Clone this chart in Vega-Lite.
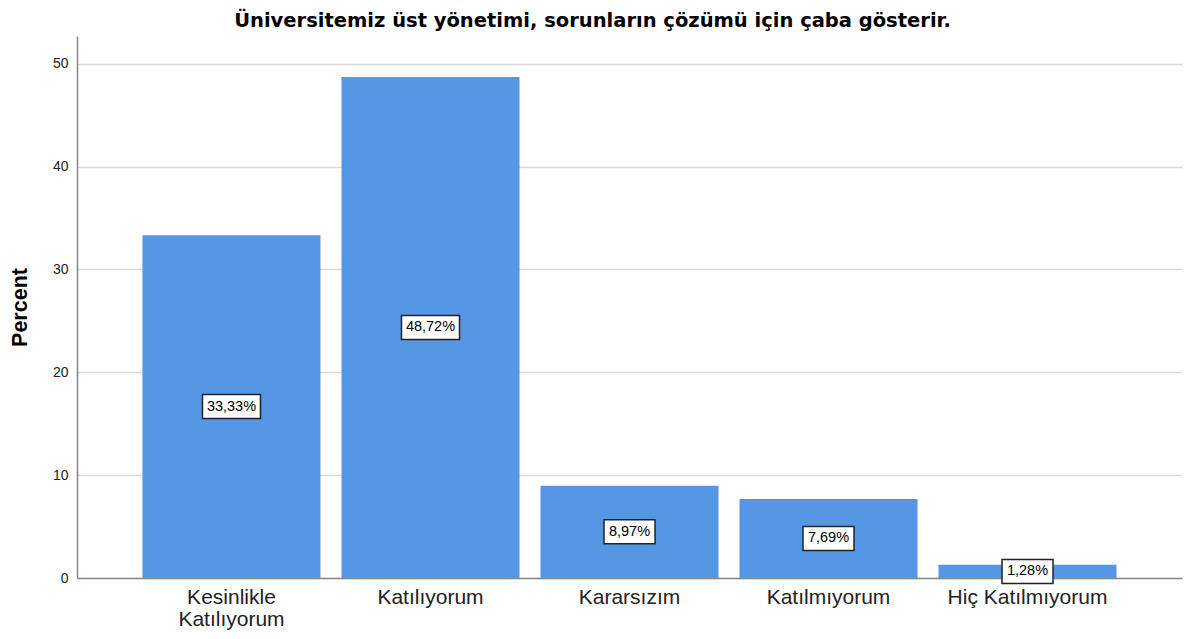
{
  "$schema": "https://vega.github.io/schema/vega-lite/v6.json",
  "autosize": "none",
  "width": 1105,
  "height": 542,
  "padding": {"left": 77, "top": 36, "right": 3, "bottom": 61},
  "background": "white",
  "config": {
    "font": "Liberation Sans",
    "view": {"stroke": null}
  },
  "title": {
    "text": "Üniversitemiz üst yönetimi, sorunların çözümü için çaba gösterir.",
    "font": "DejaVu Sans",
    "fontSize": 19.5,
    "fontWeight": "bold",
    "color": "#000000",
    "anchor": "middle",
    "dx": -37,
    "offset": 5
  },
  "data": {
    "values": [
      {"cat": "Kesinlikle Katılıyorum", "pct": 33.33, "label": "33,33%"},
      {"cat": "Katılıyorum", "pct": 48.72, "label": "48,72%"},
      {"cat": "Kararsızım", "pct": 8.97, "label": "8,97%"},
      {"cat": "Katılmıyorum", "pct": 7.69, "label": "7,69%"},
      {"cat": "Hiç Katılmıyorum", "pct": 1.28, "label": "1,28%"}
    ]
  },
  "transform": [{"calculate": "datum.pct / 2", "as": "mid"}],
  "encoding": {
    "x": {
      "field": "cat",
      "type": "nominal",
      "sort": null,
      "scale": {"paddingInner": 0.1055, "paddingOuter": 0.329},
      "axis": {
        "title": null,
        "labelAngle": 0,
        "labelFontSize": 21,
        "labelColor": "#222222",
        "labelPadding": 8,
        "labelLineHeight": 22,
        "labelExpr": "datum.value == 'Kesinlikle Katılıyorum' ? ['Kesinlikle', 'Katılıyorum'] : datum.value",
        "ticks": false,
        "domainColor": "#888888",
        "domainWidth": 1.5,
        "grid": false
      }
    }
  },
  "layer": [
    {
      "mark": {"type": "bar", "color": "#5596E5"},
      "encoding": {
        "y": {
          "field": "pct",
          "type": "quantitative",
          "scale": {"domain": [0, 52.7], "nice": false},
          "axis": {
            "title": "Percent",
            "titleFontSize": 21.5,
            "titleFontWeight": "bold",
            "titleColor": "#000000",
            "titleAngle": -90,
            "titleX": -57,
            "titleY": 271,
            "titleAlign": "center",
            "titleBaseline": "middle",
            "values": [0, 10, 20, 30, 40, 50],
            "labelFontSize": 14,
            "labelColor": "#222222",
            "labelPadding": 9,
            "ticks": false,
            "domainColor": "#888888",
            "domainWidth": 1.5,
            "gridColor": "#d9d9d9",
            "gridWidth": 1.5
          }
        }
      }
    },
    {
      "transform": [{"filter": "length(datum.label) == 6"}],
      "mark": {
        "type": "point",
        "shape": "M-1,-0.4138H1V0.4138H-1Z",
        "size": 3364,
        "filled": true,
        "fill": "white",
        "stroke": "#222222",
        "strokeWidth": 1.5,
        "opacity": 1
      },
      "encoding": {"y": {"field": "mid", "type": "quantitative"}}
    },
    {
      "transform": [{"filter": "length(datum.label) == 5"}],
      "mark": {
        "type": "point",
        "shape": "M-1,-0.4706H1V0.4706H-1Z",
        "size": 2601,
        "filled": true,
        "fill": "white",
        "stroke": "#222222",
        "strokeWidth": 1.5,
        "opacity": 1
      },
      "encoding": {"y": {"field": "mid", "type": "quantitative"}}
    },
    {
      "mark": {"type": "text", "fontSize": 14.5, "color": "#000000", "baseline": "middle", "align": "center"},
      "encoding": {
        "y": {"field": "mid", "type": "quantitative"},
        "text": {"field": "label"}
      }
    }
  ]
}
